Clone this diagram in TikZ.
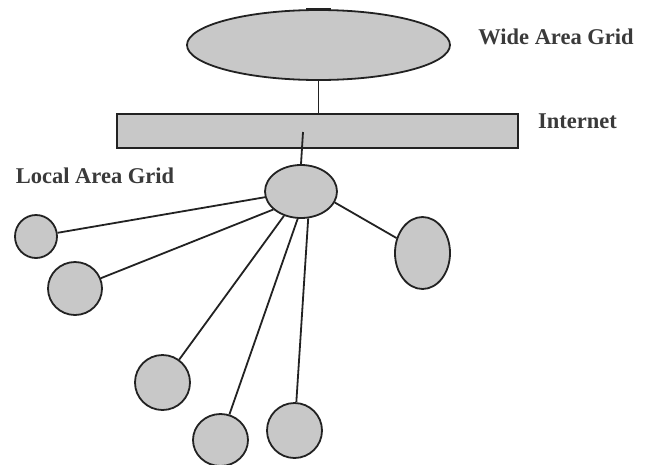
\documentclass[tikz,border=0pt]{standalone}
\usepackage{fontspec}
\setmainfont{Liberation Serif}
\usetikzlibrary{shapes.geometric}
\definecolor{nodefill}{HTML}{C8C8C8}
\definecolor{inkline}{HTML}{222222}
\definecolor{labelink}{HTML}{3A3A3A}
\tikzset{
  blob/.style={ellipse, draw=inkline, fill=nodefill, line width=1.8pt, inner sep=0pt},
  bar/.style={rectangle, draw=inkline, fill=nodefill, line width=1.8pt, inner sep=0pt},
  link/.style={draw=inkline, line width=1.8pt},
  lbl/.style={font=\bfseries\fontsize{22.5}{26}\selectfont, text=labelink, inner sep=0pt}
}
\begin{document}
\begin{tikzpicture}[x=1pt,y=-1pt]
\useasboundingbox[fill=white] (0,0) rectangle (653,464);
% wide area grid
\node[blob, minimum width=263pt, minimum height=70pt] (wan) at (318.5,45) {};
\draw[inkline, line width=2.5pt] (306,9.5) -- (331,9.5);
% internet bar
\node[bar, minimum width=401pt, minimum height=34pt] (inet) at (317.5,131) {};
% local area grid hub
\node[blob, minimum width=72pt, minimum height=53pt] (loc) at (301,191.5) {};
% leaf nodes
\node[blob, minimum width=42pt, minimum height=43pt] (c1) at (36,236.5) {};
\node[blob, minimum width=54pt, minimum height=53pt] (c2) at (75,288.5) {};
\node[blob, minimum width=55pt, minimum height=72pt] (c3) at (422.5,253) {};
\node[blob, minimum width=55pt, minimum height=55pt] (c4) at (162.5,382.5) {};
\node[blob, minimum width=55pt, minimum height=52pt] (c5) at (220.5,440) {};
\node[blob, minimum width=55pt, minimum height=55pt] (c6) at (294.5,430.5) {};
% connectors
\coordinate (inin) at (303,132);
\draw[link] (wan.south) -- (wan.south |- inet.north);
\draw[link] (inin) -- (loc.north);
\draw[link] (c1) -- (loc.189);
\draw[link] (c2) -- (loc.213);
\draw[link] (c3) -- (loc.342);
\draw[link] (c4) -- (loc.235);
\draw[link] (c5) -- (loc.263);
\draw[link] (c6) -- (loc.285);
% labels
\node[lbl] (twan) at (556,37) {Wide Area Grid};
\node[lbl] (tinet) at (577.5,121) {Internet};
\node[lbl] (tloc) at (95,176) {Local Area Grid};
\end{tikzpicture}
\end{document}
